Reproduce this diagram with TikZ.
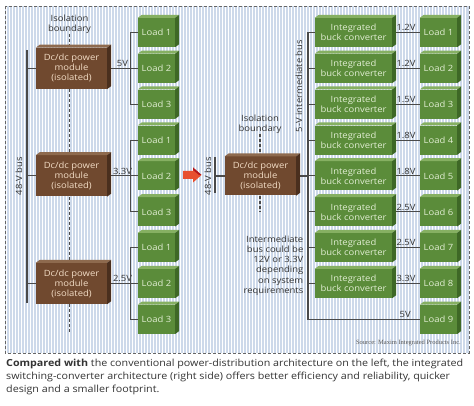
\documentclass[tikz,border=0pt]{standalone}
\usepackage{fontspec}
\setmainfont{Open Sans}[FakeStretch=1.1]
\newfontfamily\srcfont{Liberation Serif}
\pgfdeclarelayer{back}
\pgfdeclarelayer{wires}
\pgfsetlayers{back,wires,main}
\definecolor{gfront}{HTML}{5B8C3A}
\definecolor{gtop}{HTML}{86B062}
\definecolor{gside}{HTML}{3E6826}
\definecolor{bfront}{HTML}{70492F}
\definecolor{btop}{HTML}{8E6A4E}
\definecolor{bside}{HTML}{4A2F1E}
\definecolor{wirec}{HTML}{4A4A4A}
\definecolor{bgblue}{HTML}{CDD9EA}
\definecolor{gtext}{HTML}{E2EED4}
\definecolor{btext}{HTML}{F3DDC6}
\definecolor{labc}{HTML}{333333}
\definecolor{arrowred}{HTML}{E8502F}
\definecolor{arrowdark}{HTML}{B3171C}
\newcommand\cubify[3]{%
  \fill[#2] (#1.north west) -- ++(4,-3) -- ([shift={(4,-3)}]#1.north east) -- (#1.north east) -- cycle;
  \fill[#3] (#1.north east) -- ++(4,-3) -- ([shift={(4,-3)}]#1.south east) -- (#1.south east) -- cycle;}
\begin{document}
\begin{tikzpicture}[x=1pt,y=-1pt,
  loadbox/.style={fill=gfront, minimum width=37, minimum height=29, inner sep=0, text=gtext, font=\fontsize{8.6}{10}\selectfont},
  buckbox/.style={fill=gfront, minimum width=77, minimum height=29, inner sep=0, text=gtext, align=center, font=\fontsize{8.6}{10}\selectfont},
  modbox/.style={fill=bfront, minimum width=71, minimum height=41, inner sep=0, text=btext, align=center, font=\fontsize{8.6}{10}\selectfont},
  wire/.style={draw=wirec, line width=1.1},
  iso/.style={draw=wirec, line width=1.6, dash pattern=on 3 off 2},
  lab/.style={text=labc, font=\fontsize{8.6}{10.2}\selectfont, inner sep=0},
  volt/.style={text=labc, font=\fontsize{8.6}{10}\selectfont, inner sep=1},
]
\useasboundingbox (0,0) rectangle (474,406);
% background panel
\begin{pgfonlayer}{back}
\fill[bgblue] (5,6) rectangle (469,353);
\foreach \x in {6.5,9.5,...,468} \draw[white, line width=1.5] (\x,6.5) -- (\x,352.5);
\draw[draw=gray!80!black, line width=0.9, dash pattern=on 3 off 2] (5,6) rectangle (469,353);
\end{pgfonlayer}

% left loads
\foreach \y [count=\i] in {32.5,68.4,104.2,140.1,175.9,211.8,247.6,283.5,319.3}{
  \pgfmathtruncatemacro\n{mod(\i-1,3)+1}
  \node[loadbox] (LA\i) at (156.5,\y) {Load \n};
  \cubify{LA\i}{gtop}{gside}
}
% left modules
\foreach \y [count=\i] in {68.4,175.9,283.5}{
  \node[modbox] (M\i) at (71.5,\y) {Dc/dc power\\module\\(isolated)};
  \cubify{M\i}{btop}{bside}
}
\node[lab, align=center] (ISO1) at (69.5,24) {Isolation\\boundary};
\node[lab, rotate=90] (BUSL) at (19,176) {48-V bus};
\coordinate (busLtop) at (27,50);
\coordinate (busLbot) at (27,303);
\coordinate (isoLend) at (69.5,333);

% arrow
\fill[arrowred] (183,171) -- (193,171) -- (193,167.5) -- (201.5,175) -- (193,182.5) -- (193,179) -- (183,179) -- cycle;
\fill[arrowdark] (193,167.5) -- (201.5,175) -- (199,175) -- (193,170) -- cycle;

% right module
\node[modbox, minimum height=39] (RM) at (260.5,176) {Dc/dc power\\module\\(isolated)};
\cubify{RM}{btop}{bside}
\node[lab, align=center] (ISO2) at (260,124) {Isolation\\boundary};
\coordinate (isoRend) at (260,212);
\node[lab, rotate=90] (BUSR) at (208,176) {48-V bus};
\coordinate (busRtop) at (215,157);
\coordinate (busRbot) at (215,193);
\node[lab, rotate=90] (IBUS) at (299,86) {5-V intermediate bus};
\coordinate (ibus) at (308,0);
\node[lab, align=right, anchor=east] (NOTE) at (303.5,265.5) {Intermediate\\bus could be\\12V or 3.3V\\depending\\on system\\requirements};

% buck converters and right loads
\foreach \y [count=\i] in {32.5,68.4,104.2,140.1,175.9,211.8,247.6,283.5}{
  \node[buckbox] (B\i) at (353.5,\y) {Integrated\\buck converter};
  \cubify{B\i}{gtop}{gside}
}
\foreach \y [count=\i] in {32.5,68.4,104.2,140.1,175.9,211.8,247.6,283.5,319.3}{
  \node[loadbox] (R\i) at (438.5,\y) {Load \i};
  \cubify{R\i}{gtop}{gside}
}

% source and caption
\node[anchor=east, inner sep=0, text=gray!70!black, font=\srcfont\fontsize{6.5}{7}\selectfont] (SRC) at (461,343) {Source: Maxim Integrated Products Inc.};
\node[anchor=north west, align=left, inner sep=0, text=labc, font=\fontsize{9.75}{13}\selectfont] (CAP) at (6,358.5)
 {\textbf{Compared with} the conventional power-distribution architecture on the left, the integrated\\
  switching-converter architecture (right side) offers better efficiency and reliability, quicker\\
  design and a smaller footprint.};

% wires
\begin{pgfonlayer}{wires}
\draw[wire] (busLtop) -- (busLbot);
\foreach \i in {1,2,3} \draw[wire] (M\i.west -| busLtop) -- (M\i.west);
\foreach \i/\v in {1/5V,2/3.3V,3/2.5V} \draw[wire] (M\i.east) -- (LA\the\numexpr 3*\i-1\relax.west) node[volt, midway, above] {\v};
\foreach \a/\b in {1/3,4/6,7/9} \draw[wire] (LA\a.west) -- ++(-7,0) |- (LA\b.west);
\draw[iso] (ISO1.south) -- (ISO1.south |- M1.north);
\draw[iso] (M1.south -| ISO1) -- (M2.north -| ISO1);
\draw[iso] (M2.south -| ISO1) -- (M3.north -| ISO1);
\draw[iso] (M3.south -| ISO1) -- (isoLend);
\draw[wire] (busRtop) -- (busRbot);
\draw[wire] (RM.west -| busRtop) -- (RM.west);
\draw[iso] (ISO2.south) -- (ISO2.south |- RM.north);
\draw[iso] (RM.south -| ISO2) -- (isoRend);
\draw[wire] (RM.east) -- (RM.east -| ibus);
\draw[wire] (B1.west -| ibus) -- (R9.west -| ibus) -- (R9.west) node[volt, pos=0.87, above] {5V};
\foreach \i in {1,...,8} \draw[wire] (B\i.west -| ibus) -- (B\i.west);
\foreach \i/\v in {1/1.2V,2/1.2V,3/1.5V,4/1.8V,5/1.8V,6/2.5V,7/2.5V,8/3.3V} \draw[wire] (B\i.east) -- (R\i.west) node[volt, midway, above] {\v};
\end{pgfonlayer}
\end{tikzpicture}
\end{document}
